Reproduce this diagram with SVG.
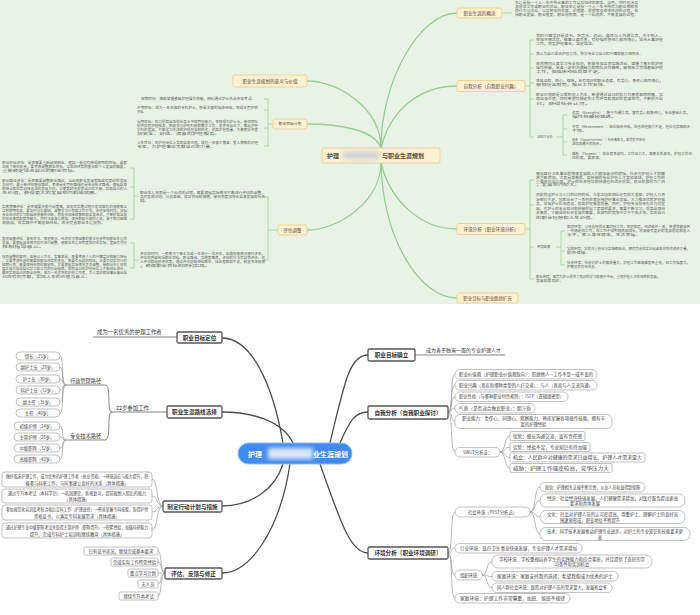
<svg xmlns="http://www.w3.org/2000/svg" width="700" height="615" viewBox="0 0 700 615">
<defs>
<style>
text{font-family:"Noto Sans CJK SC","Noto Sans",sans-serif}
.tn{fill:#fdf0d3;stroke:#f1cf8c;stroke-width:.9}
.tt{font-size:4.6px;fill:#5a4a30;text-anchor:middle}
.tp{font-size:3.3px;fill:#606060}
.gl{fill:none;stroke:#94cf8e;stroke-width:1.3}
.gb{fill:none;stroke:#9fd39a;stroke-width:.8}
.bn{fill:#fff;stroke:#555;stroke-width:1.3}
.bt{font-size:5.6px;font-weight:bold;fill:#333;text-anchor:middle}
.pl{fill:#fff;stroke:#a8a8a8;stroke-width:.7}
.ps{font-size:4.3px;fill:#444}
.pm{font-size:4.3px;fill:#444;text-anchor:middle}
.lt{font-size:5.4px;fill:#333}
.dl{fill:none;stroke:#4d4d4d;stroke-width:1.3}
.bl{fill:none;stroke:#9a9a9a;stroke-width:.7}
.ul{fill:none;stroke:#666;stroke-width:.8}
</style>
<filter id="blur" x="-20%" y="-50%" width="140%" height="200%"><feGaussianBlur stdDeviation="2"/></filter>
</defs>
<rect width="700" height="615" fill="#fff"/>
<rect width="700" height="304" fill="#e9f3e5"/>

<g id="connectors">
<path class="gl" d="M381,148 C381,80 420,13 457,13"/>
<path class="gl" d="M381,148 C390,110 420,86 457,86"/>
<path class="gl" d="M381,163 C390,200 420,229 457,229"/>
<path class="gl" d="M381,163 C383,240 420,298 457,298"/>
<path class="gl" d="M381,148 C381,110 340,81 307,81"/>
<path class="gl" d="M381,148 C375,130 340,124 307,124"/>
<path class="gl" d="M381,163 C381,200 340,230 307,230"/>
<path class="gb" d="M502,13 H512"/>
<path class="gb" d="M525,86 H530 M534,40 H530 V137 H534 M530,54 H534 M530,68 H534 M530,83 H534 M530,99 H534"/>
<path class="gb" d="M556,137 H563 M567,115 H563 V155 H567 M563,129 H567 M563,142 H567"/>
<path class="gb" d="M525,229 H530 M534,180 H530 V279 H534 M530,205 H534 M530,247 H534"/>
<path class="gb" d="M556,247 H561 M565,231 H561 V265 H565 M561,251 H565"/>
<path class="gb" d="M273,124 H268 M264,99 H268 V146 H264 M268,110 H264 M268,128 H264"/>
<path class="gb" d="M278,230 H268 M264,197 H268 V260 H264"/>
<path class="gb" d="M139,196 H134 M130,168 H134 V219 H130 M134,187 H130"/>
<path class="gb" d="M139,260 H134 M130,243 H134 V268 H130"/>

<path class="dl" d="M283,443 C272,380 250,338 222,338"/>
<path class="dl" d="M293,443 C282,420 250,412 222,412"/>
<path class="dl" d="M330,443 C345,380 350,355 368,355"/>
<path class="dl" d="M340,443 C350,420 355,412 368,412"/>
<path class="dl" d="M283,464 C275,490 250,506 222,506"/>
<path class="dl" d="M290,464 C280,530 250,573 222,573"/>
<path class="dl" d="M320,464 C340,520 350,553 368,553"/>
<path class="ul" d="M177,337 H93"/>
<path class="ul" d="M167,412 H112"/>
<path class="ul" d="M112,412 C106,412 112,385 105,385 H66 M112,412 C106,412 112,440 105,440 H66"/>
<path class="bl" d="M66,385 C61,385 64,356 60,356 M66,385 C61,385 64,367 60,367 M66,385 C61,385 64,379 60,379 M66,385 C61,385 64,390 60,390 M66,385 C61,385 64,402 60,402 M66,385 C61,385 64,413 60,413"/>
<path class="bl" d="M66,440 C61,440 64,426 60,426 M66,440 C61,440 64,437 60,437 M66,440 C61,440 64,448 60,448 M66,440 C61,440 64,459 60,459"/>
<path class="bl" d="M163,506 C156,506 158,479 152,479 M163,506 C156,506 158,496 152,496 M163,506 C156,506 158,512 152,512 M163,506 C156,506 158,530 152,530"/>
<path class="bl" d="M165,573 C160,573 162,551 158,551 M165,573 C160,573 162,562 158,562 M165,573 C160,573 162,573 158,573 M165,573 C160,573 162,584 158,584 M165,573 C160,573 162,596 158,596"/>
<path class="ul" d="M415,355 H505"/>
<path class="bl" d="M448,412 C453,412 450,374 455,374 M448,412 C453,412 450,385 455,385 M448,412 C453,412 450,397 455,397 M448,412 C453,412 450,408 455,408 M448,412 C453,412 450,421 455,421 M448,412 C453,412 450,452 455,452"/>
<path class="bl" d="M500,452 C506,452 504,436 510,436 M500,452 C506,452 504,447 510,447 M500,452 C506,452 504,457.5 510,457.5 M500,452 C506,452 504,468 510,468"/>
<path class="bl" d="M448,553 C453,553 450,512 455,512 M448,553 C453,553 450,548 455,548 M448,553 C453,553 450,575 455,575 M448,553 C453,553 450,598 455,598"/>
<path class="bl" d="M530,512 C536,512 534,487 540,487 M530,512 C536,512 534,500.5 540,500.5 M530,512 C536,512 534,517 540,517 M530,512 C536,512 534,534 540,534"/>
<path class="bl" d="M482,575 C488,575 486,561.5 492,561.5 M482,575 C488,575 486,576.5 492,576.5 M482,575 C488,575 486,587.5 492,587.5"/>
</g>

<g id="top-center">
<rect class="tn" x="322" y="148" width="118" height="15" rx="2"/>
<text x="327" y="158" style="font-size:6px;font-weight:bold;fill:#5a4a30">护理</text>
<rect x="343" y="151.5" width="36" height="8" fill="#cfd3d6" filter="url(#blur)"/>
<text x="382" y="158" style="font-size:6px;font-weight:bold;fill:#5a4a30">与职业生涯规划</text>
</g>

<g id="t-concept">
<rect class="tn" x="457" y="8" width="45" height="10" rx="2"/>
<text class="tt" x="479.5" y="14.6">职业生涯的概念</text>
<text class="tp" x="515" y="4" textLength="123" lengthAdjust="spacingAndGlyphs">生涯是指一个人一生中所从事的工作以及担任的职务、角色，同时也涉及</text>
<text class="tp" x="515" y="8" textLength="123" lengthAdjust="spacingAndGlyphs">其他非工作或职业的活动。职业生涯是指一个人一生中所有与职业相联系</text>
<text class="tp" x="515" y="12" textLength="123" lengthAdjust="spacingAndGlyphs">的行为与活动，以及相关的态度、价值观、愿望等连续性经历的过程，包</text>
<text class="tp" x="515" y="16" textLength="123" lengthAdjust="spacingAndGlyphs">括职业发展、职业变更、职业规划等，是一个动态的、不断发展的过程。</text>
</g>

<g id="t-self">
<rect class="tn" x="457" y="80.5" width="68" height="11" rx="2"/>
<text class="tt" x="491" y="87.6">自我分析（自我职业兴趣）</text>
<text class="tp" x="536" y="37.2" textLength="127" lengthAdjust="spacingAndGlyphs">我的兴趣爱好是读书、听音乐、运动，喜欢与人沟通交流，乐于助人，</text>
<text class="tp" x="536" y="41.2" textLength="127" lengthAdjust="spacingAndGlyphs">性格开朗活泼，做事认真负责，有较强的责任心和同情心，适合从事护理</text>
<text class="tp" x="536" y="45.2" textLength="60" lengthAdjust="spacingAndGlyphs">工作，热爱护理事业，坚定信念。</text>
<text class="tp" x="536" y="55.2" textLength="107" lengthAdjust="spacingAndGlyphs">我认为自己适合护理工作，所学专业与自己的兴趣和能力相符合。</text>
<text class="tp" x="536" y="65.2" textLength="127" lengthAdjust="spacingAndGlyphs">在校期间认真学习专业知识，积极参加各项实践活动，掌握了基本的护理</text>
<text class="tp" x="536" y="69.2" textLength="127" lengthAdjust="spacingAndGlyphs">操作技能，具备一定的沟通能力和团队合作精神，能够独立完成基础护理</text>
<text class="tp" x="536" y="73.2" textLength="67" lengthAdjust="spacingAndGlyphs">工作，但临床经验尚显不足。</text>
<text class="tp" x="536" y="82.2" textLength="127" lengthAdjust="spacingAndGlyphs">性格温和、耐心、细致，具有良好的职业道德，有爱心、责任心和同情心，</text>
<text class="tp" x="536" y="86.2" textLength="72" lengthAdjust="spacingAndGlyphs">能够吃苦耐劳，服从工作安排。</text>
<text class="tp" x="536" y="95.7" textLength="127" lengthAdjust="spacingAndGlyphs">职业价值观是以帮助他人为主，希望通过自己的努力为患者解除病痛，实</text>
<text class="tp" x="536" y="100.2" textLength="127" lengthAdjust="spacingAndGlyphs">现自身价值；同时希望有稳定的工作环境和良好的发展空间，不断提升自</text>
<text class="tp" x="536" y="104.7" textLength="55" lengthAdjust="spacingAndGlyphs">己，获得社会认可。</text>
<text class="tp" x="537" y="138.2">SWOT分析</text>
<text class="tp" x="572" y="114.2" textLength="118" lengthAdjust="spacingAndGlyphs">优势（Strengths）：擅于沟通交流，富有爱心和责任心，专业基础扎实，</text>
<text class="tp" x="572" y="118.2" textLength="45" lengthAdjust="spacingAndGlyphs">操作技能较熟练。</text>
<text class="tp" x="572" y="128.2" textLength="118" lengthAdjust="spacingAndGlyphs">劣势（Weaknesses）：缺乏临床经验，应急处理能力不足，理论与实践结合</text>
<text class="tp" x="572" y="132.2" textLength="15" lengthAdjust="spacingAndGlyphs">不够。</text>
<text class="tp" x="572" y="141.2" textLength="73" lengthAdjust="spacingAndGlyphs">机会（Opportunities）：社会需求大，医院提供培训</text>
<text class="tp" x="572" y="145.2" textLength="31" lengthAdjust="spacingAndGlyphs">进修和晋升的机会。</text>
<text class="tp" x="572" y="154.7" textLength="120" lengthAdjust="spacingAndGlyphs">威胁（Threats）：就业竞争激烈，工作压力大，医患关系紧张，护理工作风</text>
<text class="tp" x="572" y="158.7" textLength="31" lengthAdjust="spacingAndGlyphs">险较高，要求高。</text>
</g>

<g id="t-env">
<rect class="tn" x="457" y="223.5" width="68" height="11" rx="2"/>
<text class="tt" x="491" y="230.6">环境分析（职业环境分析）</text>
<text class="tp" x="536" y="175.2" textLength="129" lengthAdjust="spacingAndGlyphs">随着医疗卫生事业的快速发展和人们健康意识的增强，社会对护理人才的需</text>
<text class="tp" x="536" y="178.9" textLength="129" lengthAdjust="spacingAndGlyphs">求不断增加，尤其是高素质、高技能的专业护理人才更加紧缺，护理工作的</text>
<text class="tp" x="536" y="182.6" textLength="129" lengthAdjust="spacingAndGlyphs">重要性日益凸显，护士的社会地位和待遇也在逐步提高，就业前景较为广阔</text>
<text class="tp" x="536" y="186.3" textLength="44" lengthAdjust="spacingAndGlyphs">，发展空间较大。</text>
<text class="tp" x="536" y="196.2" textLength="129" lengthAdjust="spacingAndGlyphs">目前我国护士与人口的比例较低，与发达国家相比还有较大差距，护理人力资</text>
<text class="tp" x="536" y="200.7" textLength="129" lengthAdjust="spacingAndGlyphs">源相对不足。国家出台了一系列政策支持护理事业发展，大力推进优质护理服</text>
<text class="tp" x="536" y="205.2" textLength="129" lengthAdjust="spacingAndGlyphs">务，加强护士队伍建设，提高护理服务质量。同时，护理专业向专科化方向发</text>
<text class="tp" x="536" y="209.7" textLength="129" lengthAdjust="spacingAndGlyphs">展，对护士的专业知识和技能提出了更高的要求，需要不断学习，提高自身综</text>
<text class="tp" x="536" y="214.2" textLength="129" lengthAdjust="spacingAndGlyphs">合素质，才能适应社会发展的需要，在激烈的竞争中立于不败之地，实现自己</text>
<text class="tp" x="536" y="218.7" textLength="60" lengthAdjust="spacingAndGlyphs">的职业理想和人生价值。</text>
<text class="tp" x="537" y="248.2">环境因素</text>
<text class="tp" x="567" y="228.2" textLength="123" lengthAdjust="spacingAndGlyphs">家庭环境：父母支持我从事护理工作，家庭和睦，经济条件一般，希望我能找到</text>
<text class="tp" x="567" y="232.2" textLength="123" lengthAdjust="spacingAndGlyphs">一份稳定的工作，在工作中得到锻炼和成长，将来能有更好的发展前途和收入</text>
<text class="tp" x="567" y="236.2" textLength="73" lengthAdjust="spacingAndGlyphs">水平，家人身体健康，生活幸福。</text>
<text class="tp" x="567" y="250.2" textLength="123" lengthAdjust="spacingAndGlyphs">学校环境：学校注重理论与实践相结合，拥有完善的实训设备和优秀的师资力量，</text>
<text class="tp" x="567" y="254.2" textLength="23" lengthAdjust="spacingAndGlyphs">提供保障。</text>
<text class="tp" x="567" y="264.2" textLength="123" lengthAdjust="spacingAndGlyphs">社会环境：社会对护士的需求量大，护理工作越来越受到重视，但工作强度大，</text>
<text class="tp" x="567" y="268.2" textLength="31" lengthAdjust="spacingAndGlyphs">护患关系有待改善。</text>
<text class="tp" x="536" y="278.2" textLength="124" lengthAdjust="spacingAndGlyphs">职业环境：医院为护士提供了良好的学习和晋升平台，重视护理人才的培养和发展，</text>
<text class="tp" x="536" y="282.2" textLength="27" lengthAdjust="spacingAndGlyphs">发展前景良好。</text>
</g>

<g id="t-goalroute">
<rect class="tn" x="457" y="293" width="61" height="10" rx="2"/>
<text class="tt" x="487.5" y="299.6" style="font-size:4.4px">职业目标与职业路线扩充</text>
</g>

<g id="t-meaning">
<rect class="tn" x="233" y="75" width="74" height="12" rx="2"/>
<text class="tt" x="270" y="82.6">职业生涯规划的意义与价值</text>
</g>

<g id="t-plan">
<rect class="tn" x="273" y="119" width="34" height="10" rx="2"/>
<text class="tt" x="290" y="125.4" style="font-size:3.8px">职业目标计划</text>
<text class="tp" x="141" y="100.2" textLength="114" lengthAdjust="spacingAndGlyphs">短期目标：熟练掌握基础护理操作技能，顺利通过护士执业资格考试。</text>
<text class="tp" x="137" y="109.2" textLength="121" lengthAdjust="spacingAndGlyphs">中期目标：成为一名合格的专科护士，积累丰富的临床经验，取得主管护师</text>
<text class="tp" x="137" y="113.2" textLength="9" lengthAdjust="spacingAndGlyphs">资格。</text>
<text class="tp" x="137" y="123.2" textLength="121" lengthAdjust="spacingAndGlyphs">长期目标：努力提高自身的业务水平和管理能力，争取成为护士长，带领团队</text>
<text class="tp" x="137" y="127.2" textLength="121" lengthAdjust="spacingAndGlyphs">提供优质护理服务，积极参与护理科研和教学工作，发表专业论文，推动护理</text>
<text class="tp" x="137" y="131.2" textLength="121" lengthAdjust="spacingAndGlyphs">学科的发展，不断学习先进的护理理念和技术，提高护理质量，为患者提供更</text>
<text class="tp" x="137" y="135.2" textLength="83" lengthAdjust="spacingAndGlyphs">加安全、舒适、满意的护理服务。</text>
<text class="tp" x="137" y="144.2" textLength="121" lengthAdjust="spacingAndGlyphs">人生目标：在护理岗位上实现自身价值，成为一名德才兼备、受人尊敬的护理</text>
<text class="tp" x="137" y="148.2" textLength="78" lengthAdjust="spacingAndGlyphs">专家，为护理事业贡献自己的力量。</text>
</g>

<g id="t-evaluate">
<rect class="tn" x="278" y="225" width="29" height="10" rx="2"/>
<text class="tt" x="292.5" y="231.6">评估调整</text>
<text class="tp" x="140" y="194.2" textLength="125" lengthAdjust="spacingAndGlyphs">职业生涯规划是一个动态的过程，需要根据实际情况不断进行评估和调整，</text>
<text class="tp" x="140" y="198.2" textLength="125" lengthAdjust="spacingAndGlyphs">及时发现问题，分析原因，修正目标和措施，使规划更加符合自身发展和社会</text>
<text class="tp" x="140" y="202.2" textLength="7" lengthAdjust="spacingAndGlyphs">需要。</text>
<text class="tp" x="140" y="255.2" textLength="125" lengthAdjust="spacingAndGlyphs">评估的时间：一般情况下每半年或一年进行一次评估，如遇特殊情况随时评估，</text>
<text class="tp" x="140" y="259.2" textLength="125" lengthAdjust="spacingAndGlyphs">评估的内容包括职业目标、职业路线、实施策略等，评估的方法有自我评估、他</text>
<text class="tp" x="140" y="263.2" textLength="125" lengthAdjust="spacingAndGlyphs">人评估和组织评估等，通过评估总结经验教训，找出差距和不足，制定改进措施</text>
<text class="tp" x="140" y="267.2" textLength="70" lengthAdjust="spacingAndGlyphs">，确保职业目标的顺利实现。</text>
<text class="tp" x="2" y="164.2" textLength="125" lengthAdjust="spacingAndGlyphs">职业目标评估：是否需要重新选择职业，假如一直没有获得预期的目标，或者</text>
<text class="tp" x="2" y="168.2" textLength="125" lengthAdjust="spacingAndGlyphs">出现了新的机会，要考虑调整职业目标，以适应环境的变化和个人发展的需要，</text>
<text class="tp" x="2" y="172.2" textLength="76" lengthAdjust="spacingAndGlyphs">重新确定适合自己的职业目标。</text>
<text class="tp" x="2" y="182.2" textLength="125" lengthAdjust="spacingAndGlyphs">职业路径评估：是否需要调整职业路径，当出现职业发展受阻或有更好的发展</text>
<text class="tp" x="2" y="186.2" textLength="125" lengthAdjust="spacingAndGlyphs">方向时，要重新评估职业路径，考虑是走管理路线还是专业技术路线，根据自身</text>
<text class="tp" x="2" y="190.2" textLength="125" lengthAdjust="spacingAndGlyphs">的特点和优势选择合适的发展方向，以便更好地发挥自己的才能，实现自己的人</text>
<text class="tp" x="2" y="194.2" textLength="98" lengthAdjust="spacingAndGlyphs">生价值，获得更大的发展空间和成就感。</text>
<text class="tp" x="2" y="208.2" textLength="125" lengthAdjust="spacingAndGlyphs">实施策略评估：是否需要改变行动策略，如果在实施过程中发现原有的措施难以</text>
<text class="tp" x="2" y="212.2" textLength="125" lengthAdjust="spacingAndGlyphs">达到预期效果，要及时分析原因，调整学习计划和工作方法，合理安排时间，加强</text>
<text class="tp" x="2" y="216.2" textLength="125" lengthAdjust="spacingAndGlyphs">专业知识的学习和临床技能的训练，积极参加继续教育和各类培训，不断提高自身</text>
<text class="tp" x="2" y="220.2" textLength="125" lengthAdjust="spacingAndGlyphs">的综合素质和竞争能力，同时注意身心健康，保持积极乐观的心态，勇于面对困难</text>
<text class="tp" x="2" y="224.2" textLength="103" lengthAdjust="spacingAndGlyphs">和挑战，在实践中不断总结经验，逐步完善职业生涯规划。</text>
<text class="tp" x="2" y="240.2" textLength="125" lengthAdjust="spacingAndGlyphs">其他因素评估：身体状况、家庭情况、经济状况等因素的变化也会影响职业生涯的</text>
<text class="tp" x="2" y="244.2" textLength="125" lengthAdjust="spacingAndGlyphs">发展，要根据具体情况及时进行调整，使职业生涯规划更加切合实际，更具有可行</text>
<text class="tp" x="2" y="248.2" textLength="43" lengthAdjust="spacingAndGlyphs">性和指导意义。</text>
<text class="tp" x="2" y="258.2" textLength="125" lengthAdjust="spacingAndGlyphs">规划调整的原则：坚持以人为本，实事求是，既要考虑个人的兴趣爱好和能力特长</text>
<text class="tp" x="2" y="262.2" textLength="125" lengthAdjust="spacingAndGlyphs">，又要考虑社会的需要和职业环境的变化；既要有长远的目标，又要有切实可行的</text>
<text class="tp" x="2" y="266.2" textLength="125" lengthAdjust="spacingAndGlyphs">短期计划；既要保持规划的稳定性，又要根据实际情况灵活调整，使职业生涯规划</text>
<text class="tp" x="2" y="270.2" textLength="125" lengthAdjust="spacingAndGlyphs">真正成为指导自己学习和工作的行动指南，帮助自己在护理岗位上不断成长进步，</text>
<text class="tp" x="2" y="274.2" textLength="125" lengthAdjust="spacingAndGlyphs">最终实现自己的职业理想，成为一名优秀的护理工作者，为人类的健康事业做出自</text>
<text class="tp" x="2" y="278.2" textLength="88" lengthAdjust="spacingAndGlyphs">己应有的贡献，实现人生的价值与意义。</text>
</g>

<g id="b-center">
<rect x="238" y="443" width="114" height="21" rx="10.5" fill="#3f8cf0" stroke="#8dbaf7" stroke-width="1"/>
<text x="248" y="456.5" style="font-size:7px;font-weight:bold;fill:#fff">护理</text>
<rect x="268" y="448" width="45" height="11" fill="#dbe8fb" filter="url(#blur)"/>
<text x="313" y="456.5" style="font-size:7px;font-weight:bold;fill:#fff">业生涯规划</text>
</g>

<g id="b-goal-pos">
<rect class="bn" x="177" y="332" width="45" height="11" rx="1.5"/>
<text class="bt" x="199.5" y="339.6">职业目标定位</text>
<text class="lt" x="97" y="333.5">成为一名优秀的护理工作者</text>
</g>

<g id="b-route">
<rect class="bn" x="167" y="406" width="55" height="12" rx="1.5"/>
<text class="bt" x="194.5" y="414">职业生涯路线选择</text>
<text class="lt" x="116" y="410">22岁参加工作</text>
<text class="lt" x="70" y="383" style="font-size:5.2px">行政管理路径</text>
<text class="lt" x="70" y="438" style="font-size:5.2px">专业技术路径</text>
<rect class="pl" x="16" y="352" width="44" height="8" rx="4"/><text class="pm" x="38" y="357.5">组长（25岁）</text>
<rect class="pl" x="16" y="363" width="44" height="8" rx="4"/><text class="pm" x="38" y="368.5">副护士长（28岁）</text>
<rect class="pl" x="16" y="375" width="44" height="8" rx="4"/><text class="pm" x="38" y="380.5">护士长（30岁）</text>
<rect class="pl" x="16" y="386" width="44" height="8" rx="4"/><text class="pm" x="38" y="391.5">科护士长（32岁）</text>
<rect class="pl" x="16" y="398" width="44" height="8" rx="4"/><text class="pm" x="38" y="403.5">副主任（35岁）</text>
<rect class="pl" x="16" y="409" width="44" height="8" rx="4"/><text class="pm" x="38" y="414.5">主任（40岁）</text>
<rect class="pl" x="14" y="422" width="46" height="8" rx="4"/><text class="pm" x="37" y="427.5">初级护师（24岁）</text>
<rect class="pl" x="14" y="433" width="46" height="8" rx="4"/><text class="pm" x="37" y="438.5">主管护师（28岁）</text>
<rect class="pl" x="14" y="444" width="46" height="8" rx="4"/><text class="pm" x="37" y="449.5">中级职称（32岁）</text>
<rect class="pl" x="14" y="455" width="46" height="8" rx="4"/><text class="pm" x="37" y="460.5">高级职称（40岁）</text>
</g>

<g id="b-plan">
<rect class="bn" x="163" y="501" width="59" height="11" rx="1.5"/>
<text class="bt" x="192.5" y="508.6">制定行动计划与措施</text>
<rect class="pl" x="2" y="472" width="150" height="15" rx="3"/>
<text class="ps" x="6" y="478.3" textLength="142" lengthAdjust="spacingAndGlyphs">做好临床护理工作，成为优秀的护理工作者（执业资格）→环境适应与能力提升，积</text>
<text class="pm" x="77" y="484.6">极参与科室工作，与同事建立良好的关系（具体措施）</text>
<rect class="pl" x="2" y="489" width="150" height="14" rx="3"/>
<text class="ps" x="8" y="494.8" textLength="138" lengthAdjust="spacingAndGlyphs">通过专升本考试（本科学历）→巩固理论，系统复习，提前规划入院后的能力</text>
<text class="pm" x="77" y="500.8">（具体措施）</text>
<rect class="pl" x="2" y="505" width="150" height="15" rx="3"/>
<text class="ps" x="6" y="511.3" textLength="142" lengthAdjust="spacingAndGlyphs">参加规范化培训及考核合格后定科工作（护理进修）→熟练掌握专科技能，取得护师</text>
<text class="pm" x="77" y="517.6">资格证书，以满足专科发展需求（具体措施）</text>
<rect class="pl" x="2" y="523" width="150" height="15" rx="3"/>
<text class="ps" x="6" y="529.3" textLength="142" lengthAdjust="spacingAndGlyphs">通过护理专业中级职称考试并取得主管护师（职称晋升）→积累经验，加强科研能力</text>
<text class="pm" x="77" y="535.6">提升，完成专科护士培训和继续教育（具体措施）</text>
</g>

<g id="b-review">
<rect class="bn" x="165" y="568" width="57" height="11" rx="1.5"/>
<text class="bt" x="193.5" y="575.6">评估、反馈与修正</text>
<rect class="pl" x="84" y="547" width="74" height="8" rx="1.5"/><text class="pm" x="121" y="552.5">已有证书状况，继续完成基本要求</text>
<rect class="pl" x="111" y="558" width="47" height="8" rx="1.5"/><text class="pm" x="134.5" y="563.5">完成实际工作所需经验</text>
<rect class="pl" x="128" y="569" width="30" height="8" rx="1.5"/><text class="pm" x="143" y="574.5">重点学习计划</text>
<rect class="pl" x="138" y="580" width="20" height="8" rx="1.5"/><text class="pm" x="148" y="585.5">无人员</text>
<rect class="pl" x="119" y="592" width="39" height="8" rx="1.5"/><text class="pm" x="138.5" y="597.5">继续专升本考试</text>
</g>

<g id="b-goal-set">
<rect class="bn" x="368" y="349" width="47" height="12" rx="1.5"/>
<text class="bt" x="391.5" y="357">职业目标确立</text>
<text class="lt" x="426" y="352" style="font-size:5px">成为善于独当一面的专业护理人才</text>
</g>

<g id="b-self">
<rect class="bn" x="368" y="406" width="80" height="13" rx="1.5"/>
<text class="bt" x="408" y="414.5">自我分析（自我职业探讨）</text>
<rect class="pl" x="455" y="369.5" width="142" height="9.5" rx="4.5"/>
<text class="ps" x="459" y="375.8" textLength="134" lengthAdjust="spacingAndGlyphs">职业价值观（护理职业价值观取向）：照顾他人—工作不是一成不变的</text>
<rect class="pl" x="455" y="380.5" width="142" height="9.5" rx="4.5"/>
<text class="ps" x="459" y="386.8" textLength="134" lengthAdjust="spacingAndGlyphs">职业兴趣（喜欢和哪种类型的人打交道）：与人（喜欢与人交流沟通）</text>
<rect class="pl" x="455" y="392" width="113" height="9.5" rx="4.5"/>
<text class="ps" x="459" y="398.3" textLength="105" lengthAdjust="spacingAndGlyphs">职业性格（与哪种职业特性相符）：ISTP（逻辑缜密型）</text>
<rect class="pl" x="455" y="403.5" width="80" height="9.5" rx="4.5"/>
<text class="ps" x="459" y="409.8" textLength="72" lengthAdjust="spacingAndGlyphs">气质（是否适合做此职业）：胆汁质</text>
<rect class="pl" x="455" y="414.5" width="157" height="14" rx="5"/>
<text class="ps" x="462" y="420.3" textLength="143" lengthAdjust="spacingAndGlyphs">职业能力：责任心、同理心、观察能力、熟练掌握各项操作技能，拥有丰</text>
<text class="pm" x="533.5" y="426.3">富的护理经验</text>
<rect class="pl" x="455" y="447.5" width="45" height="9.5" rx="4.5"/>
<text class="pm" x="477.5" y="453.8">SWOT分析法：</text>
<rect class="pl" x="510" y="431.5" width="75" height="9" rx="1.5"/>
<text class="ps" x="513" y="437.5" textLength="69" lengthAdjust="spacingAndGlyphs">优势：擅长沟通交流，富有责任感</text>
<rect class="pl" x="510" y="442.5" width="80" height="9" rx="1.5"/>
<text class="ps" x="513" y="448.5" textLength="74" lengthAdjust="spacingAndGlyphs">劣势：经验不足，专业知识有待加强</text>
<rect class="pl" x="510" y="453" width="135" height="9" rx="1.5"/>
<text class="ps" x="513" y="459" textLength="129" lengthAdjust="spacingAndGlyphs">机会：人民群众对健康的需求日益增长，护理人才需求量大</text>
<rect class="pl" x="510" y="463.5" width="102" height="9" rx="1.5"/>
<text class="ps" x="513" y="469.5" textLength="96" lengthAdjust="spacingAndGlyphs">威胁：护理工作强度较高，竞争压力大</text>
</g>

<g id="b-env">
<rect class="bn" x="368" y="547" width="80" height="12" rx="1.5"/>
<text class="bt" x="408" y="555">环境分析（职业环境调研）</text>
<rect class="pl" x="455" y="507" width="75" height="10" rx="5"/>
<text class="pm" x="492.5" y="513.5">社会环境（PEST分析法）</text>
<rect class="pl" x="540" y="482.5" width="105" height="9.5" rx="4.5"/>
<text class="ps" x="545" y="488.8" textLength="95" lengthAdjust="spacingAndGlyphs">政治：护理相关法规不断完善，从业人员权益得到保障</text>
<rect class="pl" x="540" y="494" width="145" height="13" rx="6"/>
<text class="ps" x="547" y="499.5" textLength="131" lengthAdjust="spacingAndGlyphs">经济：社会经济快速发展，人们健康需求增加，对医疗服务提出更高</text>
<text class="pm" x="585" y="505">要求和具体发展</text>
<rect class="pl" x="540" y="510.5" width="145" height="13" rx="6"/>
<text class="ps" x="547" y="516" textLength="131" lengthAdjust="spacingAndGlyphs">文化：社会对护理人员的认可度提高，尊重护士、理解护士的良好氛</text>
<text class="pm" x="590" y="521.5">围逐渐形成，职业地位不断提升</text>
<rect class="pl" x="540" y="527.5" width="150" height="13" rx="6"/>
<text class="ps" x="547" y="533" textLength="136" lengthAdjust="spacingAndGlyphs">技术：科学技术发展推动护理专业进步，对护士的专业知识和技能要求更</text>
<text class="pm" x="600" y="538.5">高</text>
<rect class="pl" x="455" y="543.5" width="127" height="9.5" rx="4.5"/>
<text class="ps" x="460" y="549.8" textLength="117" lengthAdjust="spacingAndGlyphs">行业环境：医疗卫生事业快速发展，专业护理人才需求增加</text>
<rect class="pl" x="455" y="570" width="27" height="10" rx="4.5"/>
<text class="pm" x="468.5" y="576.5">组织环境</text>
<rect class="pl" x="492" y="555" width="160" height="13" rx="6"/>
<text class="ps" x="499" y="560.5" textLength="146" lengthAdjust="spacingAndGlyphs">学校环境：学校重视培养学生的实践能力和综合素质，并且提供了良好的学</text>
<text class="pm" x="572" y="566">习条件和实训机会</text>
<rect class="pl" x="492" y="571.5" width="126" height="9.5" rx="4.5"/>
<text class="ps" x="497" y="577.8" textLength="116" lengthAdjust="spacingAndGlyphs">家庭环境：家庭支持我的选择，希望我能成为优秀的护士</text>
<rect class="pl" x="492" y="583" width="120" height="9.5" rx="4.5"/>
<text class="ps" x="497" y="589.3" textLength="110" lengthAdjust="spacingAndGlyphs">同人群社会环境：医院对护理人员的需求量大，发展机会多</text>
<rect class="pl" x="455" y="593.5" width="115" height="9.5" rx="4.5"/>
<text class="ps" x="460" y="599.8" textLength="105" lengthAdjust="spacingAndGlyphs">家庭环境：护理工作非常繁重，加班、值班不规律</text>
</g>
</svg>
